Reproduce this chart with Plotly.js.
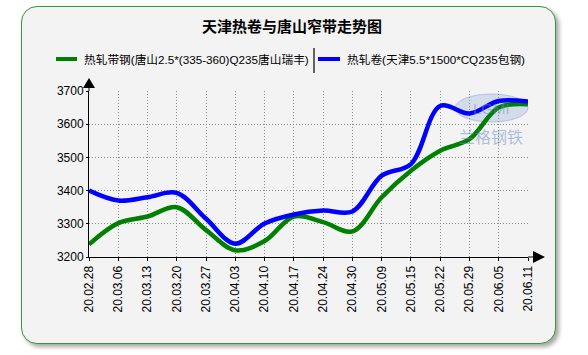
<!DOCTYPE html>
<html>
<head>
<meta charset="utf-8">
<script src="https://cdn.plot.ly/plotly-3.0.1.min.js"></script>
<style>
  html, body { margin: 0; padding: 0; background: #ffffff; }
  #wrap { position: relative; width: 588px; height: 355px; overflow: hidden; }
  #panel { position: absolute; left: 21px; top: 6px; width: 533px; height: 336px;
           border: 1.5px solid #3a953a; border-radius: 16px; background: #f3f3f3;
           box-shadow: 3px 3px 4px rgba(0,0,0,0.35); }
  #chart { position: absolute; left: 0; top: 0; width: 588px; height: 355px; }
</style>
</head>
<body>
<div id="wrap"><div id="panel"></div><div id="chart"></div></div>
<script>
const chartTitle = '天津热卷与唐山窄带走势图';
const categories = ['20.02.28','20.03.06','20.03.13','20.03.20','20.03.27','20.04.03','20.04.10','20.04.17',
                    '20.04.24','20.04.30','20.05.09','20.05.15','20.05.22','20.05.29','20.06.05','20.06.11'];
const seriesNames = ['热轧带钢(唐山2.5*(335-360)Q235唐山瑞丰)', '热轧卷(天津5.5*1500*CQ235包钢)'];
const stripSteel = [3238,3302,3322,3350,3281,3220,3248,3322,3305,3277,3380,3460,3520,3555,3650,3660];
const hotCoil    = [3400,3370,3380,3393,3315,3240,3301,3328,3340,3337,3445,3480,3655,3632,3670,3668];
const yTicks = [3200,3300,3400,3500,3600,3700];
const watermark = '兰格钢铁';

// plot area in pixels
const L = 89, R = 528, T = 91, B = 257;
const px = x => (x - L) / (R - L);
const py = y => (B - y) / (B - T);

const colors = ['#008000', '#0000ff'];
const xs = categories.map((c, i) => i);

const traces = [stripSteel, hotCoil].map((vals, k) => ({
  x: xs, y: vals, type: 'scatter', mode: 'lines', name: seriesNames[k],
  line: {color: colors[k], width: 4.5, shape: 'spline', smoothing: 1},
  hoverinfo: 'skip', showlegend: false
}));

const cjk = '"Noto Sans CJK SC", "Microsoft YaHei", sans-serif';
const legendFont = '"Liberation Sans", "Noto Sans CJK SC", sans-serif';

const shapes = [
  // legend samples
  {type:'line', xref:'paper', yref:'paper', x0:px(56), x1:px(77), y0:py(59), y1:py(59), line:{color:colors[0], width:4}},
  {type:'line', xref:'paper', yref:'paper', x0:px(314), x1:px(314), y0:py(48), y1:py(73), line:{color:'#333', width:1.5}},
  {type:'line', xref:'paper', yref:'paper', x0:px(318), x1:px(340), y0:py(59), y1:py(59), line:{color:colors[1], width:4}},
  // axis extensions and arrows
  {type:'line', xref:'paper', yref:'paper', x0:px(528), x1:px(534), y0:0, y1:0, line:{color:'#000', width:1}},
  {type:'path', xref:'paper', yref:'paper',
   path:`M${px(533)},${py(251)} L${px(545)},${py(257)} L${px(533)},${py(263)} Z`, fillcolor:'#000', line:{width:0}},
  {type:'line', xref:'paper', yref:'paper', x0:0, x1:0, y0:1, y1:py(87), line:{color:'#000', width:1}},
  {type:'path', xref:'paper', yref:'paper',
   path:`M${px(83)},${py(88)} L${px(89)},${py(78)} L${px(95)},${py(88)} Z`, fillcolor:'#000', line:{width:0}},
  // watermark logo oval
  {type:'circle', xref:'paper', yref:'paper', x0:px(455), x1:px(528), y0:py(94), y1:py(122),
   fillcolor:'rgba(120,150,210,0.25)', line:{color:'rgba(120,150,210,0.45)', width:1}, layer:'below'}
];

const annotations = [
  {xref:'paper', yref:'paper', x:px(82), y:py(59), xanchor:'left', yanchor:'middle', showarrow:false,
   text:seriesNames[0], font:{family:legendFont, size:11.7, color:'#000'}},
  {xref:'paper', yref:'paper', x:px(345), y:py(59), xanchor:'left', yanchor:'middle', showarrow:false,
   text:seriesNames[1], font:{family:legendFont, size:11.7, color:'#000'}},
  {xref:'paper', yref:'paper', x:px(491), y:py(136), xanchor:'center', yanchor:'middle', showarrow:false,
   text:watermark, font:{family:cjk, size:16, color:'rgba(110,140,200,0.55)'}},
  {xref:'paper', yref:'paper', x:px(491), y:py(108), xanchor:'center', yanchor:'middle', showarrow:false,
   text:'LGMI', font:{family:'Liberation Sans, sans-serif', size:15, color:'rgba(110,140,200,0.5)'}}
];

const layout = {
  width: 588, height: 355,
  margin: {l: L, r: 588 - R, t: T, b: 355 - B, pad: 0},
  paper_bgcolor: 'rgba(0,0,0,0)', plot_bgcolor: 'rgba(0,0,0,0)',
  title: {text: chartTitle, x: 292/588, xanchor: 'center', xref: 'container',
          y: 1 - 27/355, yref: 'container', yanchor: 'middle',
          font: {family: cjk, size: 15, color: '#000', weight: 'bold'}},
  showlegend: false,
  xaxis: {
    range: [0, categories.length - 1], tickmode: 'array', tickvals: xs, ticktext: categories,
    tickangle: -90, showline: true, linecolor: '#000', linewidth: 1,
    ticks: 'outside', ticklen: 3, tickcolor: '#000',
    showgrid: true, gridcolor: '#8a8a8a', griddash: '1px,2px', gridwidth: 1, zeroline: false,
    tickfont: {family: 'Liberation Sans, Arial, sans-serif', size: 12, color: '#000'}, fixedrange: true
  },
  yaxis: {
    range: [3200, 3700], tickmode: 'array', tickvals: yTicks, ticktext: yTicks.map(String),
    showline: true, linecolor: '#000', linewidth: 1,
    ticks: 'outside', ticklen: 2, tickcolor: '#000',
    showgrid: true, gridcolor: '#8a8a8a', griddash: '1px,2px', gridwidth: 1, zeroline: false,
    tickfont: {family: 'Liberation Sans, Arial, sans-serif', size: 12, color: '#000'}, fixedrange: true
  },
  shapes: shapes,
  annotations: annotations
};

Plotly.newPlot('chart', traces, layout, {displayModeBar: false, staticPlot: true});
</script>
</body>
</html>
